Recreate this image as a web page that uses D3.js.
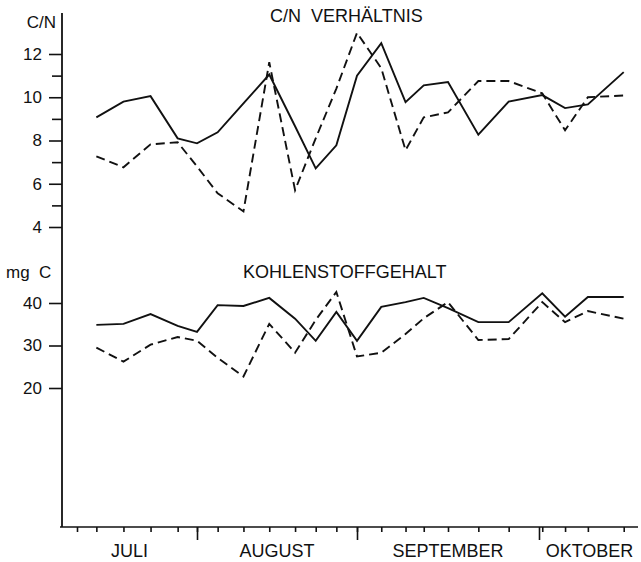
<!DOCTYPE html>
<html>
<head>
<meta charset="utf-8">
<script src="https://cdn.jsdelivr.net/npm/d3@7"></script>
<style>
  html, body { margin: 0; padding: 0; background: #fff; }
  svg { display: block; font-family: "Liberation Sans", Arial, Helvetica, sans-serif; }
  text { fill: #111; }
</style>
</head>
<body>
<svg id="chart" width="641" height="562"></svg>
<script>
// Sampling dates (month-day) of one season
const seasonYear = 1975;
const sampleDates = ["07-06","07-13","07-20","07-27","08-01","08-05","08-10","08-15",
  "08-20","08-24","08-28","09-01","09-05","09-09","09-12","09-16","09-21","09-26",
  "10-02","10-09","10-16","10-27"];
const extraTickDates = ["07-01"];
const monthStarts = ["07-01","08-01","09-01","10-01","11-01"];
const monthLabels = ["JULI","AUGUST","SEPTEMBER","OKTOBER"];

// C/N ratio
const cnTicks = [4, 6, 8, 10, 12];
const cnMinorTicks = [5, 7, 9, 11];
const cnSolid  = [9.07, 9.8, 10.05, 8.1, 7.87, 8.38, 9.72, 11.05, 8.66, 6.71, 7.78, 11.0,
                  12.5, 9.77, 10.55, 10.7, 8.27, 9.8, 10.1, 9.5, 9.67, 11.16];
const cnDashed = [7.27, 6.76, 7.82, 7.92, 6.8, 5.56, 4.72, 11.62, 5.7, 8.1, 10.4, 12.98,
                  11.34, 7.55, 9.07, 9.3, 10.75, 10.75, 10.18, 8.47, 10.0, 10.08];

// Carbon content (mg C)
const carbonTicks = [20, 30, 40];
const carbonSolid  = [34.85, 35.1, 37.4, 34.6, 33.2, 39.5, 39.3, 41.2, 36.3, 31.1, 37.9, 31.1,
                      39.1, 40.2, 41.2, 38.8, 35.5, 35.5, 42.3, 36.8, 41.4, 41.4];
const carbonDashed = [29.5, 26.2, 30.2, 32.0, 31.1, 27.1, 22.7, 35.1, 28.3, 36.0, 42.6, 27.4,
                      28.3, 32.7, 36.4, 40.2, 31.3, 31.5, 40.2, 35.5, 38.1, 36.3];

const parse = s => new Date(seasonYear, +s.slice(0, 2) - 1, +s.slice(3, 5));
const dates = sampleDates.map(parse);

const svg = d3.select("#chart");

// Layout
const axisX = 62, axisTop = 13, axisBottom = 527, axisRight = 638;

// Time axis: each month gets its own width
const x = d3.scaleTime()
  .domain(monthStarts.map(parse))
  .range([77, 197, 357, 539, 640]);

const yCN = d3.scaleLinear().domain([4, 12]).range([227, 54]);
const yC = d3.scaleLinear().domain([20, 40]).range([388, 303]);

// Axis lines
svg.append("line")
  .attr("x1", axisX).attr("x2", axisX)
  .attr("y1", axisTop).attr("y2", axisBottom)
  .attr("stroke", "#111").attr("stroke-width", 1.8);
svg.append("line")
  .attr("x1", axisX - 2).attr("x2", axisRight)
  .attr("y1", axisBottom).attr("y2", axisBottom)
  .attr("stroke", "#111").attr("stroke-width", 1.6);

function styleAxis(g, fontSize) {
  g.select(".domain").remove();
  g.selectAll(".tick line").attr("stroke", "#111").attr("stroke-width", 1.6);
  g.selectAll(".tick text").attr("font-size", fontSize).attr("fill", "#111")
    .attr("font-family", "Liberation Sans, Arial, sans-serif");
}

// C/N axis
svg.append("g").attr("transform", `translate(${axisX},0)`)
  .call(d3.axisLeft(yCN).tickValues(cnMinorTicks).tickSize(10).tickFormat(""))
  .call(g => styleAxis(g, 17));
svg.append("g").attr("transform", `translate(${axisX},0)`)
  .call(d3.axisLeft(yCN).tickValues(cnTicks).tickSize(13).tickPadding(7))
  .call(g => styleAxis(g, 17));

// Carbon axis
svg.append("g").attr("transform", `translate(${axisX},0)`)
  .call(d3.axisLeft(yC).tickValues(carbonTicks).tickSize(13).tickPadding(7))
  .call(g => styleAxis(g, 17));

// Time axis ticks
svg.append("g").attr("transform", `translate(0,${axisBottom})`)
  .call(d3.axisBottom(x).tickValues(extraTickDates.map(parse).concat(dates)).tickSize(5).tickFormat(""))
  .call(g => styleAxis(g, 17));
svg.append("g").attr("transform", `translate(0,${axisBottom})`)
  .call(d3.axisBottom(x).tickValues(monthStarts.slice(1, 4).map(parse)).tickSize(13).tickFormat(""))
  .call(g => styleAxis(g, 17));

// Month names centred in each month's stretch of the axis
// (the first stretch starts at the vertical axis)
svg.append("g").selectAll("text")
  .data(monthLabels)
  .join("text")
  .attr("x", (d, i) => {
    const left = i === 0 ? axisX : x(parse(monthStarts[i]));
    return (left + x(parse(monthStarts[i + 1]))) / 2;
  })
  .attr("y", 557)
  .attr("text-anchor", "middle")
  .attr("font-size", 18)
  .text(d => d);

// Titles and units
svg.append("text").attr("x", 56).attr("y", 28).attr("text-anchor", "end")
  .attr("font-size", 17).text("C/N");
svg.append("text").attr("x", 270).attr("y", 22).attr("font-size", 18)
  .style("white-space", "pre").text("C/N  VERHÄLTNIS");
svg.append("text").attr("x", 6).attr("y", 278).attr("font-size", 17)
  .style("white-space", "pre").text("mg  C");
svg.append("text").attr("x", 243).attr("y", 278).attr("font-size", 18)
  .text("KOHLENSTOFFGEHALT");

// Series lines
function drawSeries(values, yScale, dashed) {
  const line = d3.line()
    .x((d, i) => x(dates[i]))
    .y(d => yScale(d));
  svg.append("path")
    .datum(values)
    .attr("d", line)
    .attr("fill", "none")
    .attr("stroke", "#111")
    .attr("stroke-width", 1.9)
    .attr("stroke-linejoin", "miter")
    .attr("stroke-dasharray", dashed ? "9,5" : null);
}

drawSeries(cnSolid, yCN, false);
drawSeries(cnDashed, yCN, true);
drawSeries(carbonSolid, yC, false);
drawSeries(carbonDashed, yC, true);
</script>
</body>
</html>
